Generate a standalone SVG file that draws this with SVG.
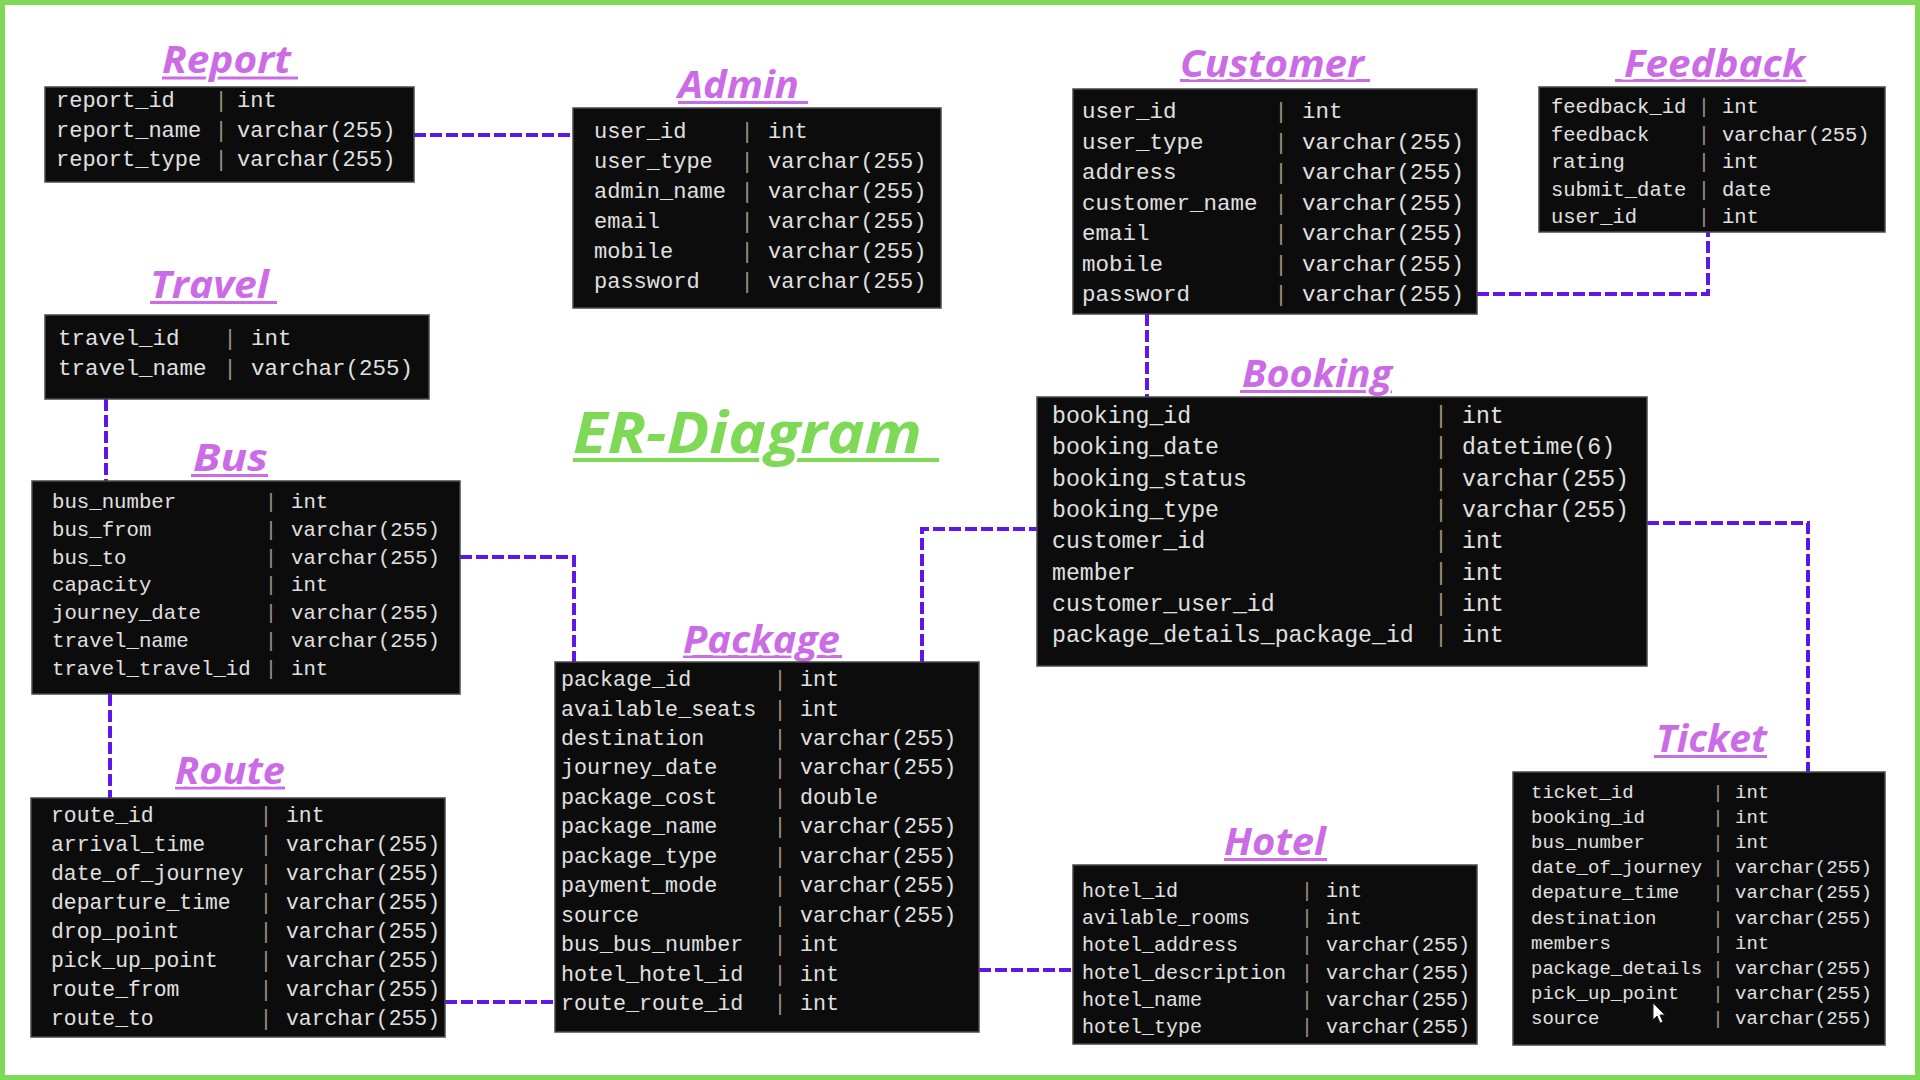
<svg xmlns="http://www.w3.org/2000/svg" width="1920" height="1080" viewBox="0 0 1920 1080">
<style>
.bg{fill:#ffffff}
.frame{fill:none;stroke:#7ed957;stroke-width:6}
.tb{fill:#0d0c0d;stroke:#4a4a4a;stroke-width:1.5}
.tx{font-family:"Liberation Mono","DejaVu Sans Mono",monospace;fill:#e0e0e0}
.br{font-family:"Liberation Mono","DejaVu Sans Mono",monospace;fill:#9a8f80;text-anchor:middle}
.tt{font-family:"Open Sans","Noto Sans","Liberation Sans",sans-serif;font-weight:bold;font-style:italic;font-size:37px;fill:#cb6ce6;stroke:#ffffff;stroke-width:5;paint-order:stroke}
.ul{fill:#cb6ce6}
.er{font-family:"Open Sans","Noto Sans","Liberation Sans",sans-serif;font-weight:bold;font-style:italic;font-size:57px;fill:#7ed957;stroke:#ffffff;stroke-width:6;paint-order:stroke}
.erul{fill:#7ed957}
.cn{fill:none;stroke:#5e17eb;stroke-width:4;stroke-dasharray:12 4}
</style>
<rect class="bg" x="0" y="0" width="1920" height="1080"/>
<rect class="frame" x="2" y="2" width="1916" height="1076"/>

<g id="connectors">
<path class="cn" d="M414,135 H573"/>
<path class="cn" d="M106,399 V481"/>
<path class="cn" d="M110,694 V798"/>
<path class="cn" d="M460,557 H574 V662"/>
<path class="cn" d="M445,1002 H555"/>
<path class="cn" d="M922,662 V529 H1037"/>
<path class="cn" d="M979,970 H1073"/>
<path class="cn" d="M1477,294 H1708 V232"/>
<path class="cn" d="M1147,314 V397"/>
<path class="cn" d="M1647,523 H1808 V772"/>
</g>

<g id="title">
<rect class="erul" x="573" y="458" width="366" height="4"/>
<text class="er" x="573" y="453" textLength="349" lengthAdjust="spacingAndGlyphs">ER-Diagram</text>
</g>

<g id="report">
<rect class="ul" x="162" y="76.5" width="136" height="3"/>
<text class="tt" x="162" y="73" textLength="129" lengthAdjust="spacingAndGlyphs">Report</text>
<rect class="tb" x="45" y="87" width="369" height="95"/>
<g font-size="22">
<text class="tx" x="56" y="107">report_id</text><text class="br" x="221" y="107">|</text><text class="tx" x="237" y="107">int</text>
<text class="tx" x="56" y="136.5">report_name</text><text class="br" x="221" y="136.5">|</text><text class="tx" x="237" y="136.5">varchar(255)</text>
<text class="tx" x="56" y="166">report_type</text><text class="br" x="221" y="166">|</text><text class="tx" x="237" y="166">varchar(255)</text>
</g>
</g>

<g id="admin">
<rect class="ul" x="678" y="101" width="130" height="3"/>
<text class="tt" x="678" y="98" textLength="121" lengthAdjust="spacingAndGlyphs">Admin</text>
<rect class="tb" x="573" y="108" width="368" height="200"/>
<g font-size="22">
<text class="tx" x="594" y="138">user_id</text><text class="br" x="747" y="138">|</text><text class="tx" x="768" y="138">int</text>
<text class="tx" x="594" y="168">user_type</text><text class="br" x="747" y="168">|</text><text class="tx" x="768" y="168">varchar(255)</text>
<text class="tx" x="594" y="198">admin_name</text><text class="br" x="747" y="198">|</text><text class="tx" x="768" y="198">varchar(255)</text>
<text class="tx" x="594" y="228">email</text><text class="br" x="747" y="228">|</text><text class="tx" x="768" y="228">varchar(255)</text>
<text class="tx" x="594" y="258">mobile</text><text class="br" x="747" y="258">|</text><text class="tx" x="768" y="258">varchar(255)</text>
<text class="tx" x="594" y="288">password</text><text class="br" x="747" y="288">|</text><text class="tx" x="768" y="288">varchar(255)</text>
</g>
</g>

<g id="travel">
<rect class="ul" x="150" y="301" width="127" height="3"/>
<text class="tt" x="150" y="298" textLength="119" lengthAdjust="spacingAndGlyphs">Travel</text>
<rect class="tb" x="45" y="315" width="384" height="84"/>
<g font-size="22.5">
<text class="tx" x="58" y="345">travel_id</text><text class="br" x="230" y="345">|</text><text class="tx" x="251" y="345">int</text>
<text class="tx" x="58" y="375">travel_name</text><text class="br" x="230" y="375">|</text><text class="tx" x="251" y="375">varchar(255)</text>
</g>
</g>

<g id="customer">
<rect class="ul" x="1180" y="79" width="190" height="3"/>
<text class="tt" x="1180" y="77" textLength="184" lengthAdjust="spacingAndGlyphs">Customer</text>
<rect class="tb" x="1073" y="89" width="404" height="225"/>
<g font-size="22.5">
<text class="tx" x="1082" y="118">user_id</text><text class="br" x="1281" y="118">|</text><text class="tx" x="1302" y="118">int</text>
<text class="tx" x="1082" y="148.5">user_type</text><text class="br" x="1281" y="148.5">|</text><text class="tx" x="1302" y="148.5">varchar(255)</text>
<text class="tx" x="1082" y="179">address</text><text class="br" x="1281" y="179">|</text><text class="tx" x="1302" y="179">varchar(255)</text>
<text class="tx" x="1082" y="209.5">customer_name</text><text class="br" x="1281" y="209.5">|</text><text class="tx" x="1302" y="209.5">varchar(255)</text>
<text class="tx" x="1082" y="240">email</text><text class="br" x="1281" y="240">|</text><text class="tx" x="1302" y="240">varchar(255)</text>
<text class="tx" x="1082" y="270.5">mobile</text><text class="br" x="1281" y="270.5">|</text><text class="tx" x="1302" y="270.5">varchar(255)</text>
<text class="tx" x="1082" y="301">password</text><text class="br" x="1281" y="301">|</text><text class="tx" x="1302" y="301">varchar(255)</text>
</g>
</g>

<g id="feedback">
<rect class="ul" x="1615" y="79" width="191" height="3"/>
<text class="tt" x="1624" y="77" textLength="181" lengthAdjust="spacingAndGlyphs">Feedback</text>
<rect class="tb" x="1539" y="87" width="346" height="145"/>
<g font-size="20.5">
<text class="tx" x="1551" y="113">feedback_id</text><text class="br" x="1704" y="113">|</text><text class="tx" x="1722" y="113">int</text>
<text class="tx" x="1551" y="140.5">feedback</text><text class="br" x="1704" y="140.5">|</text><text class="tx" x="1722" y="140.5">varchar(255)</text>
<text class="tx" x="1551" y="168">rating</text><text class="br" x="1704" y="168">|</text><text class="tx" x="1722" y="168">int</text>
<text class="tx" x="1551" y="195.5">submit_date</text><text class="br" x="1704" y="195.5">|</text><text class="tx" x="1722" y="195.5">date</text>
<text class="tx" x="1551" y="223">user_id</text><text class="br" x="1704" y="223">|</text><text class="tx" x="1722" y="223">int</text>
</g>
</g>

<g id="bus">
<rect class="ul" x="191" y="474" width="77" height="3"/>
<text class="tt" x="193" y="471" textLength="75" lengthAdjust="spacingAndGlyphs">Bus</text>
<rect class="tb" x="32" y="481" width="428" height="213"/>
<g font-size="20.7">
<text class="tx" x="52" y="508">bus_number</text><text class="br" x="271" y="508">|</text><text class="tx" x="291" y="508">int</text>
<text class="tx" x="52" y="535.8">bus_from</text><text class="br" x="271" y="535.8">|</text><text class="tx" x="291" y="535.8">varchar(255)</text>
<text class="tx" x="52" y="563.5">bus_to</text><text class="br" x="271" y="563.5">|</text><text class="tx" x="291" y="563.5">varchar(255)</text>
<text class="tx" x="52" y="591.3">capacity</text><text class="br" x="271" y="591.3">|</text><text class="tx" x="291" y="591.3">int</text>
<text class="tx" x="52" y="619">journey_date</text><text class="br" x="271" y="619">|</text><text class="tx" x="291" y="619">varchar(255)</text>
<text class="tx" x="52" y="646.8">travel_name</text><text class="br" x="271" y="646.8">|</text><text class="tx" x="291" y="646.8">varchar(255)</text>
<text class="tx" x="52" y="674.5">travel_travel_id</text><text class="br" x="271" y="674.5">|</text><text class="tx" x="291" y="674.5">int</text>
</g>
</g>

<g id="booking">
<rect class="ul" x="1240" y="390" width="152" height="3"/>
<text class="tt" x="1242" y="387" textLength="150" lengthAdjust="spacingAndGlyphs">Booking</text>
<rect class="tb" x="1037" y="397" width="610" height="269"/>
<g font-size="23.2">
<text class="tx" x="1052" y="423">booking_id</text><text class="br" x="1441" y="423">|</text><text class="tx" x="1462" y="423">int</text>
<text class="tx" x="1052" y="454.3">booking_date</text><text class="br" x="1441" y="454.3">|</text><text class="tx" x="1462" y="454.3">datetime(6)</text>
<text class="tx" x="1052" y="485.6">booking_status</text><text class="br" x="1441" y="485.6">|</text><text class="tx" x="1462" y="485.6">varchar(255)</text>
<text class="tx" x="1052" y="516.9">booking_type</text><text class="br" x="1441" y="516.9">|</text><text class="tx" x="1462" y="516.9">varchar(255)</text>
<text class="tx" x="1052" y="548.2">customer_id</text><text class="br" x="1441" y="548.2">|</text><text class="tx" x="1462" y="548.2">int</text>
<text class="tx" x="1052" y="579.5">member</text><text class="br" x="1441" y="579.5">|</text><text class="tx" x="1462" y="579.5">int</text>
<text class="tx" x="1052" y="610.8">customer_user_id</text><text class="br" x="1441" y="610.8">|</text><text class="tx" x="1462" y="610.8">int</text>
<text class="tx" x="1052" y="642.1">package_details_package_id</text><text class="br" x="1441" y="642.1">|</text><text class="tx" x="1462" y="642.1">int</text>
</g>
</g>

<g id="package">
<rect class="ul" x="683" y="655" width="159" height="3"/>
<text class="tt" x="683" y="653" textLength="157" lengthAdjust="spacingAndGlyphs">Package</text>
<rect class="tb" x="555" y="662" width="424" height="370"/>
<g font-size="21.7">
<text class="tx" x="561" y="686">package_id</text><text class="br" x="780" y="686">|</text><text class="tx" x="800" y="686">int</text>
<text class="tx" x="561" y="715.5">available_seats</text><text class="br" x="780" y="715.5">|</text><text class="tx" x="800" y="715.5">int</text>
<text class="tx" x="561" y="744.9">destination</text><text class="br" x="780" y="744.9">|</text><text class="tx" x="800" y="744.9">varchar(255)</text>
<text class="tx" x="561" y="774.4">journey_date</text><text class="br" x="780" y="774.4">|</text><text class="tx" x="800" y="774.4">varchar(255)</text>
<text class="tx" x="561" y="803.8">package_cost</text><text class="br" x="780" y="803.8">|</text><text class="tx" x="800" y="803.8">double</text>
<text class="tx" x="561" y="833.3">package_name</text><text class="br" x="780" y="833.3">|</text><text class="tx" x="800" y="833.3">varchar(255)</text>
<text class="tx" x="561" y="862.7">package_type</text><text class="br" x="780" y="862.7">|</text><text class="tx" x="800" y="862.7">varchar(255)</text>
<text class="tx" x="561" y="892.2">payment_mode</text><text class="br" x="780" y="892.2">|</text><text class="tx" x="800" y="892.2">varchar(255)</text>
<text class="tx" x="561" y="921.6">source</text><text class="br" x="780" y="921.6">|</text><text class="tx" x="800" y="921.6">varchar(255)</text>
<text class="tx" x="561" y="951.1">bus_bus_number</text><text class="br" x="780" y="951.1">|</text><text class="tx" x="800" y="951.1">int</text>
<text class="tx" x="561" y="980.5">hotel_hotel_id</text><text class="br" x="780" y="980.5">|</text><text class="tx" x="800" y="980.5">int</text>
<text class="tx" x="561" y="1010">route_route_id</text><text class="br" x="780" y="1010">|</text><text class="tx" x="800" y="1010">int</text>
</g>
</g>

<g id="route">
<rect class="ul" x="175" y="786.5" width="110" height="3"/>
<text class="tt" x="175" y="784" textLength="110" lengthAdjust="spacingAndGlyphs">Route</text>
<rect class="tb" x="31" y="798" width="414" height="239"/>
<g font-size="21.4">
<text class="tx" x="51" y="821.7">route_id</text><text class="br" x="266" y="821.7">|</text><text class="tx" x="286" y="821.7">int</text>
<text class="tx" x="51" y="850.7">arrival_time</text><text class="br" x="266" y="850.7">|</text><text class="tx" x="286" y="850.7">varchar(255)</text>
<text class="tx" x="51" y="879.8">date_of_journey</text><text class="br" x="266" y="879.8">|</text><text class="tx" x="286" y="879.8">varchar(255)</text>
<text class="tx" x="51" y="908.8">departure_time</text><text class="br" x="266" y="908.8">|</text><text class="tx" x="286" y="908.8">varchar(255)</text>
<text class="tx" x="51" y="937.9">drop_point</text><text class="br" x="266" y="937.9">|</text><text class="tx" x="286" y="937.9">varchar(255)</text>
<text class="tx" x="51" y="966.9">pick_up_point</text><text class="br" x="266" y="966.9">|</text><text class="tx" x="286" y="966.9">varchar(255)</text>
<text class="tx" x="51" y="995.9">route_from</text><text class="br" x="266" y="995.9">|</text><text class="tx" x="286" y="995.9">varchar(255)</text>
<text class="tx" x="51" y="1025">route_to</text><text class="br" x="266" y="1025">|</text><text class="tx" x="286" y="1025">varchar(255)</text>
</g>
</g>

<g id="hotel">
<rect class="ul" x="1224" y="858" width="103" height="3"/>
<text class="tt" x="1224" y="855" textLength="102" lengthAdjust="spacingAndGlyphs">Hotel</text>
<rect class="tb" x="1073" y="865" width="404" height="179"/>
<g font-size="20">
<text class="tx" x="1082" y="897">hotel_id</text><text class="br" x="1307" y="897">|</text><text class="tx" x="1326" y="897">int</text>
<text class="tx" x="1082" y="924.2">avilable_rooms</text><text class="br" x="1307" y="924.2">|</text><text class="tx" x="1326" y="924.2">int</text>
<text class="tx" x="1082" y="951.4">hotel_address</text><text class="br" x="1307" y="951.4">|</text><text class="tx" x="1326" y="951.4">varchar(255)</text>
<text class="tx" x="1082" y="978.6">hotel_description</text><text class="br" x="1307" y="978.6">|</text><text class="tx" x="1326" y="978.6">varchar(255)</text>
<text class="tx" x="1082" y="1005.8">hotel_name</text><text class="br" x="1307" y="1005.8">|</text><text class="tx" x="1326" y="1005.8">varchar(255)</text>
<text class="tx" x="1082" y="1033">hotel_type</text><text class="br" x="1307" y="1033">|</text><text class="tx" x="1326" y="1033">varchar(255)</text>
</g>
</g>

<g id="ticket">
<rect class="ul" x="1654" y="755" width="113" height="3"/>
<text class="tt" x="1656" y="752" textLength="111" lengthAdjust="spacingAndGlyphs">Ticket</text>
<rect class="tb" x="1513" y="772" width="372" height="273"/>
<g font-size="19">
<text class="tx" x="1531" y="798">ticket_id</text><text class="br" x="1718" y="798">|</text><text class="tx" x="1735" y="798">int</text>
<text class="tx" x="1531" y="823.1">booking_id</text><text class="br" x="1718" y="823.1">|</text><text class="tx" x="1735" y="823.1">int</text>
<text class="tx" x="1531" y="848.2">bus_number</text><text class="br" x="1718" y="848.2">|</text><text class="tx" x="1735" y="848.2">int</text>
<text class="tx" x="1531" y="873.3">date_of_journey</text><text class="br" x="1718" y="873.3">|</text><text class="tx" x="1735" y="873.3">varchar(255)</text>
<text class="tx" x="1531" y="898.4">depature_time</text><text class="br" x="1718" y="898.4">|</text><text class="tx" x="1735" y="898.4">varchar(255)</text>
<text class="tx" x="1531" y="923.5">destination</text><text class="br" x="1718" y="923.5">|</text><text class="tx" x="1735" y="923.5">varchar(255)</text>
<text class="tx" x="1531" y="948.6">members</text><text class="br" x="1718" y="948.6">|</text><text class="tx" x="1735" y="948.6">int</text>
<text class="tx" x="1531" y="973.7">package_details</text><text class="br" x="1718" y="973.7">|</text><text class="tx" x="1735" y="973.7">varchar(255)</text>
<text class="tx" x="1531" y="998.8">pick_up_point</text><text class="br" x="1718" y="998.8">|</text><text class="tx" x="1735" y="998.8">varchar(255)</text>
<text class="tx" x="1531" y="1023.9">source</text><text class="br" x="1718" y="1023.9">|</text><text class="tx" x="1735" y="1023.9">varchar(255)</text>
</g>
<path d="M1653,1003 V1020 L1657,1016 L1660,1023 L1663,1022 L1660,1015 L1665,1015 Z" fill="#ffffff" stroke="#222222" stroke-width="1"/>
</g>
</svg>
